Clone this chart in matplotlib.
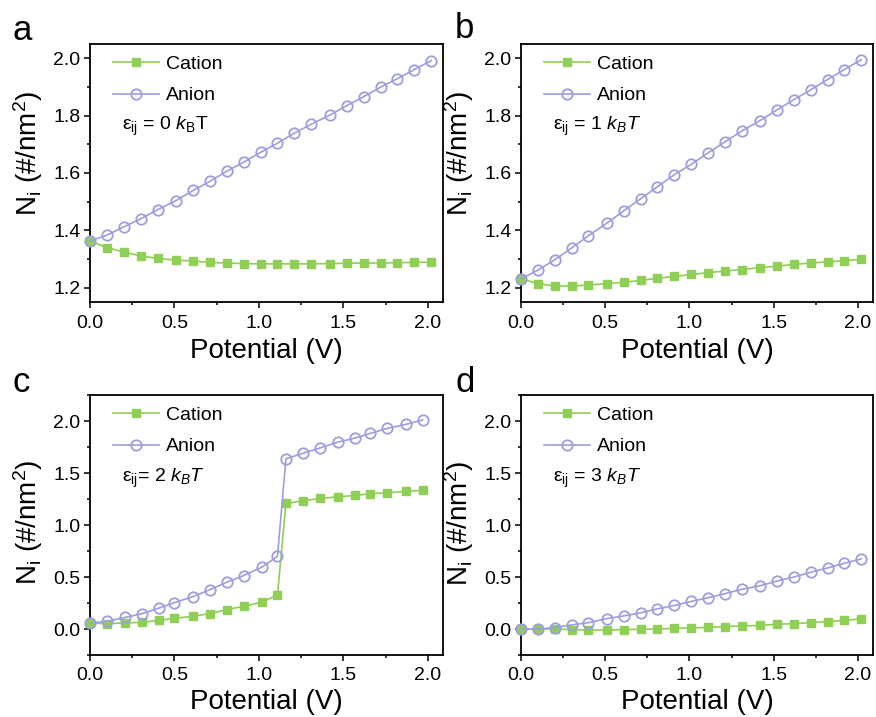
import matplotlib

matplotlib.use("Agg")
import matplotlib.pyplot as plt
from matplotlib.ticker import AutoMinorLocator, MultipleLocator

plt.rcParams["font.family"] = ["Liberation Sans", "DejaVu Sans"]
plt.rcParams["mathtext.fontset"] = "custom"
plt.rcParams["mathtext.rm"] = "Liberation Sans"
plt.rcParams["mathtext.it"] = "Liberation Sans:italic"

GREEN = "#8fcf55"
PURPLE = "#9d9de0"

# potential (V), shared by panels a, b, d
potential = [0.00, 0.10, 0.20, 0.30, 0.40, 0.51, 0.61, 0.71, 0.81, 0.91, 1.01,
             1.11, 1.21, 1.31, 1.42, 1.52, 1.62, 1.72, 1.82, 1.92, 2.02]
# panel c has a finer step around the jump
potential_c = [0.00, 0.10, 0.21, 0.31, 0.41, 0.50, 0.61, 0.71, 0.81, 0.91, 1.02,
               1.11, 1.16, 1.26, 1.36, 1.47, 1.57, 1.66, 1.76, 1.87, 1.97]

cation_a = [1.363, 1.340, 1.324, 1.311, 1.302, 1.296, 1.293, 1.288, 1.286, 1.284, 1.283,
            1.283, 1.283, 1.283, 1.284, 1.285, 1.286, 1.286, 1.287, 1.288, 1.289]
anion_a = [1.363, 1.383, 1.412, 1.440, 1.472, 1.504, 1.539, 1.571, 1.606, 1.638, 1.672,
           1.704, 1.739, 1.770, 1.802, 1.835, 1.866, 1.899, 1.929, 1.961, 1.992]

cation_b = [1.231, 1.214, 1.206, 1.206, 1.209, 1.214, 1.219, 1.225, 1.233, 1.239, 1.246,
            1.252, 1.258, 1.263, 1.270, 1.275, 1.281, 1.286, 1.290, 1.294, 1.299]
anion_b = [1.231, 1.261, 1.297, 1.338, 1.381, 1.425, 1.468, 1.510, 1.552, 1.594, 1.630,
           1.670, 1.708, 1.746, 1.783, 1.820, 1.856, 1.890, 1.926, 1.961, 1.995]

cation_c = [0.058, 0.051, 0.058, 0.064, 0.083, 0.103, 0.122, 0.148, 0.186, 0.218, 0.260,
            0.327, 1.207, 1.233, 1.255, 1.271, 1.284, 1.300, 1.310, 1.323, 1.335]
anion_c = [0.058, 0.074, 0.112, 0.148, 0.202, 0.254, 0.311, 0.379, 0.449, 0.514, 0.597,
           0.700, 1.637, 1.689, 1.740, 1.798, 1.836, 1.881, 1.929, 1.968, 2.010]

cation_d = [0.000, 0.000, 0.000, -0.006, -0.010, -0.010, -0.006, -0.003, 0.000, 0.006, 0.010,
            0.016, 0.023, 0.029, 0.035, 0.045, 0.052, 0.061, 0.071, 0.084, 0.097]
anion_d = [0.000, 0.000, 0.013, 0.039, 0.061, 0.100, 0.126, 0.155, 0.194, 0.226, 0.265,
           0.300, 0.339, 0.381, 0.416, 0.461, 0.500, 0.545, 0.587, 0.632, 0.674]

letters = ["a", "b", "c", "d"]
eps_labels = [
    r"ε$_\mathregular{ij}$ = 0 $k_\mathregular{B}$T",
    r"ε$_\mathregular{ij}$ = 1 $k_B T$",
    r"ε$_\mathregular{ij}$= 2 $k_B T$",
    r"ε$_\mathregular{ij}$ = 3 $k_B T$",
]

fig = plt.figure(figsize=(8.76, 7.17), dpi=100)
W, H = 876, 717

# axes boxes in pixels: left, top, right, bottom
boxes = [(90, 44, 443, 302), (521, 44, 873, 302),
         (90, 395, 443, 655), (521, 395, 873, 655)]
letter_pos = [(12, 40), (455, 38), (12, 392), (455, 392)]
ylabel_y = [0.575, 0.575, 0.51, 0.505]
xlabel_pad = [5, 5, 3.5, 3.5]

panels = [
    (potential, cation_a, anion_a, (1.15, 2.05), 0.2),
    (potential, cation_b, anion_b, (1.15, 2.05), 0.2),
    (potential_c, cation_c, anion_c, (-0.25, 2.25), 0.5),
    (potential, cation_d, anion_d, (-0.25, 2.25), 0.5),
]

for i, (pot, cat, an, ylim, ystep) in enumerate(panels):
    l, t, r, b = boxes[i]
    ax = fig.add_axes([l / W, 1 - b / H, (r - l) / W, (b - t) / H])

    ax.plot(pot, cat, "-s", color=GREEN, lw=1.2, ms=5.5, mfc=GREEN, mec=GREEN,
            clip_on=False, zorder=3, label="Cation")
    ax.plot(pot, an, "-o", color=PURPLE, lw=1.2, ms=7.5, mfc="none", mec=PURPLE,
            mew=1.3, clip_on=False, zorder=4, label="Anion")

    ax.set_xlim(0, 2.09)
    ax.set_ylim(*ylim)
    ax.xaxis.set_major_locator(MultipleLocator(0.5))
    ax.yaxis.set_major_locator(MultipleLocator(ystep))
    ax.xaxis.set_minor_locator(AutoMinorLocator(2))
    ax.yaxis.set_minor_locator(AutoMinorLocator(2))
    ax.tick_params(which="both", direction="out", width=1.1, labelsize=14,
                   top=False, right=False)
    ax.tick_params(which="major", length=4, pad=3)
    ax.tick_params(axis="x", which="major", pad=5)
    ax.tick_params(which="minor", length=2.5)
    for s in ax.spines.values():
        s.set_linewidth(1.3)

    ax.set_xlabel("Potential (V)", fontsize=20, labelpad=xlabel_pad[i])
    ax.set_ylabel(r"N$_\mathregular{i}$ (#/nm$^\mathregular{2}$)", fontsize=20)
    ax.yaxis.set_label_coords(-0.128, ylabel_y[i])

    ax.legend(loc="upper left", bbox_to_anchor=(0.02, 1.017), frameon=False,
              fontsize=14, handlelength=2.4, handletextpad=0.35, labelspacing=0.72,
              borderpad=0.3)
    ax.text(0.09, 0.68, eps_labels[i], transform=ax.transAxes, fontsize=14,
            va="center", ha="left")

    lx, ly = letter_pos[i]
    fig.text(lx / W, 1 - ly / H, letters[i], fontsize=25, ha="left", va="baseline")

fig.savefig("out.png", dpi=100)
